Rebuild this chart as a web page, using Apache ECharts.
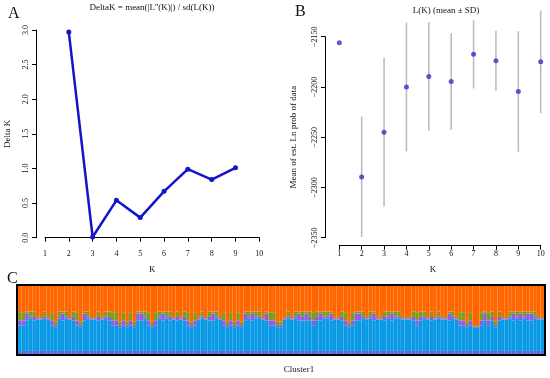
<!DOCTYPE html>
<html><head><meta charset="utf-8">
<script src="https://cdn.jsdelivr.net/npm/echarts@6/dist/echarts.min.js"></script>
<style>html,body{margin:0;padding:0;background:#fff}#c{width:550px;height:378px}</style>
</head><body><div id="c"></div>
<script>
// Panel A: Delta K
var kA = [2, 3, 4, 5, 6, 7, 8, 9];
var deltaK = [2.97, 0.01, 0.54, 0.29, 0.67, 0.99, 0.84, 1.01];
var ticksA = [0, 0.5, 1.0, 1.5, 2.0, 2.5, 3.0];
// Panel B: L(K) mean ± SD
var kB = [1, 2, 3, 4, 5, 6, 7, 8, 9, 10];
var meanLnP = [-2156, -2289.5, -2245, -2200, -2189.5, -2194.5, -2167.5, -2174, -2204.5, -2175];
var sdLnP = [0, 60, 74, 64, 54, 48, 34, 30, 60, 51];
var ticksB = [-2350, -2300, -2250, -2200, -2150];
var kTicks = [1, 2, 3, 4, 5, 6, 7, 8, 9, 10];
// Panel C: membership proportions per individual (bottom to top)
var bandQ = [
.045,.045,.045,.045,.045,.045,.045,.045,.045,.045,.045,.045,.045,.045,.045,.045,.045,.045,.045,.045,.045,
.045,.045,.045,.045,.045,.045,.045,.045,.045,.045,.045,.045,.045,.045,.045,.045,.045,.045,.045,.045,.045,
.045,.045,.045,.045,.045,.045,.045,.045,.045,.045,.045,.045,.045,.045,.045,.045,.045,.045,.045,.045,.045,
.045,.045,.045,.045,.045,.045,.045,.045,.045,.045,.045,.045,.045,.045,.045,.045,.045,.045,.045,.045,.045,
.045,.045,.045,.045,.045,.045,.045,.045,.045,.045,.045,.045,.045,.045,.045,.045,.045,.045,.045,.045,.045,
.045,.045,.045,.045,.045,.045,.045,.045,.045,.045,.045,.045,.045,.045,.045,.045,.045,.045,.045,.045,.045,
.045,.045,.045,.045,.045,.045,.045,.045,.045,.045,.045,.045,.045,.045,.045,.045,.045,.045,.045,.045,.045];
var blueQ = [
.37,.37,.45,.48,.45,.46,.46,.48,.46,.37,
.35,.48,.45,.48,.46,.45,.37,.35,.45,.48,
.46,.46,.45,.46,.48,.45,.37,.37,.35,.37,
.35,.37,.35,.45,.45,.48,.37,.35,.37,.48,
.45,.48,.45,.46,.45,.46,.45,.37,.35,.37,
.46,.48,.46,.45,.45,.48,.46,.37,.35,.37,
.35,.37,.35,.45,.48,.45,.48,.48,.46,.45,
.37,.37,.35,.35,.46,.48,.46,.48,.45,.45,
.45,.45,.37,.45,.45,.48,.48,.45,.46,.46,
.45,.37,.35,.37,.45,.45,.48,.46,.48,.45,
.46,.46,.45,.48,.45,.48,.48,.46,.46,.46,
.45,.37,.45,.48,.46,.45,.46,.48,.46,.46,
.45,.48,.46,.37,.37,.35,.37,.34,.34,.37,
.45,.37,.45,.35,.45,.46,.46,.48,.45,.48,
.45,.48,.45,.45,.48,.46,.46];
var purpleQ = [
.08,.08,.10,.03,.05,.02,.02,.03,.02,.08,
.03,.03,.10,.03,.02,.05,.08,.03,.10,.03,
.02,.02,.05,.02,.03,.05,.08,.08,.03,.08,
.03,.08,.03,.10,.10,.03,.08,.03,.08,.03,
.10,.03,.05,.02,.05,.02,.05,.08,.03,.08,
.02,.03,.02,.05,.10,.03,.02,.08,.03,.08,
.03,.08,.03,.10,.03,.10,.03,.03,.02,.10,
.08,.08,.03,.03,.02,.03,.02,.03,.10,.05,
.10,.05,.08,.05,.10,.03,.03,.10,.02,.02,
.05,.08,.03,.08,.10,.10,.03,.02,.03,.10,
.02,.02,.05,.03,.10,.03,.03,.02,.02,.02,
.05,.08,.05,.03,.02,.05,.02,.03,.02,.02,
.10,.03,.02,.08,.08,.03,.08,.02,.02,.08,
.10,.08,.05,.03,.05,.02,.02,.03,.10,.03,
.10,.03,.10,.10,.03,.02,.02];
var greenQ = [
.12,.12,.03,.07,.08,.02,.02,.07,.02,.12,
.05,.07,.03,.07,.02,.08,.12,.05,.03,.07,
.02,.02,.08,.02,.07,.08,.12,.12,.05,.12,
.05,.12,.05,.03,.03,.07,.12,.05,.12,.07,
.03,.07,.08,.02,.08,.02,.08,.12,.05,.12,
.02,.07,.02,.08,.03,.07,.02,.12,.05,.12,
.05,.12,.05,.03,.07,.03,.07,.07,.02,.03,
.12,.12,.05,.05,.02,.07,.02,.07,.03,.08,
.03,.08,.12,.08,.03,.07,.07,.03,.02,.02,
.08,.12,.05,.12,.03,.03,.07,.02,.07,.03,
.02,.02,.08,.07,.03,.07,.07,.02,.02,.02,
.08,.12,.08,.07,.02,.08,.02,.07,.02,.02,
.03,.07,.02,.12,.12,.05,.12,.02,.02,.12,
.03,.12,.08,.05,.08,.02,.02,.07,.03,.07,
.03,.07,.03,.03,.07,.02,.02];
var orangeQ = [
.385,.385,.375,.375,.375,.455,.455,.375,.455,.385,
.525,.375,.375,.375,.455,.375,.385,.525,.375,.375,
.455,.455,.375,.455,.375,.375,.385,.385,.525,.385,
.525,.385,.525,.375,.375,.375,.385,.525,.385,.375,
.375,.375,.375,.455,.375,.455,.375,.385,.525,.385,
.455,.375,.455,.375,.375,.375,.455,.385,.525,.385,
.525,.385,.525,.375,.375,.375,.375,.375,.455,.375,
.385,.385,.525,.525,.455,.375,.455,.375,.375,.375,
.375,.375,.385,.375,.375,.375,.375,.375,.455,.455,
.375,.385,.525,.385,.375,.375,.375,.455,.375,.375,
.455,.455,.375,.375,.375,.375,.375,.455,.455,.455,
.375,.385,.375,.375,.455,.375,.455,.375,.455,.455,
.375,.375,.455,.385,.385,.525,.385,.575,.575,.385,
.375,.385,.375,.525,.375,.455,.455,.375,.375,.375,
.375,.375,.375,.375,.375,.455,.455];
var individuals = blueQ.map(function (_, i) { return 'ind' + (i + 1); });

var FONT = 'Liberation Serif';
var chart = echarts.init(document.getElementById('c'), null, {renderer: 'canvas'});

function axisCommon(extra) {
  var base = {
    type: 'value',
    splitLine: {show: false},
    axisLine: {show: true, lineStyle: {color: '#000', width: 1}},
    axisTick: {show: true, length: 4, lineStyle: {color: '#000', width: 1}},
    axisLabel: {fontFamily: FONT, fontSize: 8, color: '#111', showMinLabel: true, showMaxLabel: true},
    nameTextStyle: {fontFamily: FONT, fontSize: 9, color: '#111'}
  };
  for (var k in extra) {
    if (typeof extra[k] === 'object' && base[k] && !Array.isArray(extra[k])) {
      base[k] = Object.assign({}, base[k], extra[k]);
    } else base[k] = extra[k];
  }
  return base;
}

var option = {
  animation: false,
  backgroundColor: '#fff',
  title: [
    {text: 'A', left: 3, top: 1, textStyle: {fontFamily: FONT, fontSize: 16, fontWeight: 'normal', color: '#111'}},
    {text: 'B', left: 290, top: -1, textStyle: {fontFamily: FONT, fontSize: 16, fontWeight: 'normal', color: '#111'}},
    {text: 'C', left: 2, top: 266, textStyle: {fontFamily: FONT, fontSize: 16, fontWeight: 'normal', color: '#111'}},
    {text: "DeltaK = mean(|L''(K)|) / sd(L(K))", left: 147, textAlign: 'center', top: -2, textStyle: {fontFamily: FONT, fontSize: 9, fontWeight: 'normal', color: '#111'}},
    {text: 'L(K) (mean ± SD)', left: 441, textAlign: 'center', top: 1, textStyle: {fontFamily: FONT, fontSize: 9, fontWeight: 'normal', color: '#111'}},
    {text: 'Cluster1', left: 294, textAlign: 'center', top: 360, textStyle: {fontFamily: FONT, fontSize: 9, fontWeight: 'normal', color: '#111'}}
  ],
  grid: [
    {left: 45, top: 30, width: 214.3, height: 207.7, outerBoundsMode: 'none', containLabel: false},
    {left: 339.3, top: 36.7, width: 201.4, height: 201, outerBoundsMode: 'none', containLabel: false},
    {left: 18, top: 286, width: 526, height: 68, outerBoundsMode: 'none', containLabel: false}
  ],
  xAxis: [
    axisCommon({gridIndex: 0, min: 1, max: 10, interval: 1, offset: 8, name: 'K', nameLocation: 'middle', nameGap: 19,
      axisLabel: {margin: 4}}),
    axisCommon({gridIndex: 1, min: 1, max: 10, interval: 1, offset: 8, name: 'K', nameLocation: 'middle', nameGap: 19,
      axisLabel: {margin: 4}, nameTextStyle: {padding: [0, 14, 0, 0]}}),
    {gridIndex: 2, type: 'category', data: individuals, show: false, boundaryGap: true}
  ],
  yAxis: [
    axisCommon({gridIndex: 0, min: 0, max: 3, interval: 0.5, offset: 9, name: 'Delta K', nameLocation: 'middle', nameGap: 24,
      axisLabel: {rotate: 90, margin: 6, formatter: function (v) { return v.toFixed(1); }}}),
    axisCommon({gridIndex: 1, min: -2350, max: -2150, interval: 50, offset: 14.3, name: 'Mean of est. Ln prob of data', nameLocation: 'middle', nameGap: 27,
      axisLabel: {rotate: 90, margin: 6, formatter: function (v) { return String(v).replace('-', '\u2212'); }}}),
    {gridIndex: 2, type: 'value', min: 0, max: 1, show: false}
  ],
  series: [
    {
      type: 'line', xAxisIndex: 0, yAxisIndex: 0,
      data: kA.map(function (k, i) { return [k, deltaK[i]]; }),
      lineStyle: {color: '#1414c8', width: 2.5},
      itemStyle: {color: '#1414c8'},
      symbol: 'circle', symbolSize: 5, showSymbol: true
    },
    {
      type: 'custom', xAxisIndex: 1, yAxisIndex: 1, clip: false,
      data: kB.map(function (k, i) { return [k, meanLnP[i] - sdLnP[i], meanLnP[i] + sdLnP[i]]; }),
      renderItem: function (params, api) {
        var p1 = api.coord([api.value(0), api.value(1)]);
        var p2 = api.coord([api.value(0), api.value(2)]);
        return {type: 'line', shape: {x1: p1[0], y1: p1[1], x2: p2[0], y2: p2[1]},
          style: {stroke: '#bdbdbd', lineWidth: 1.6}};
      },
      z: 1
    },
    {
      type: 'scatter', xAxisIndex: 1, yAxisIndex: 1,
      data: kB.map(function (k, i) { return [k, meanLnP[i]]; }),
      symbol: 'circle', symbolSize: 5, itemStyle: {color: '#3232cc'}, z: 3
    },
    {type: 'bar', xAxisIndex: 2, yAxisIndex: 2, stack: 'q', data: bandQ, barCategoryGap: '0%', itemStyle: {color: '#5a6ad6'}},
    {type: 'bar', xAxisIndex: 2, yAxisIndex: 2, stack: 'q', data: blueQ, barCategoryGap: '0%', itemStyle: {color: '#0a99e4'}},
    {type: 'bar', xAxisIndex: 2, yAxisIndex: 2, stack: 'q', data: purpleQ, barCategoryGap: '0%', itemStyle: {color: '#8c5ce4'}},
    {type: 'bar', xAxisIndex: 2, yAxisIndex: 2, stack: 'q', data: greenQ, barCategoryGap: '0%', itemStyle: {color: '#809a1e'}},
    {type: 'bar', xAxisIndex: 2, yAxisIndex: 2, stack: 'q', data: orangeQ, barCategoryGap: '0%', itemStyle: {color: '#ff6600'}}
  ],
  graphic: [
    {type: 'rect', shape: {x: 17, y: 285, width: 528, height: 70}, style: {fill: null, stroke: '#000', lineWidth: 2}, z: 100}
  ]
};
chart.setOption(option);
</script>
</body></html>
